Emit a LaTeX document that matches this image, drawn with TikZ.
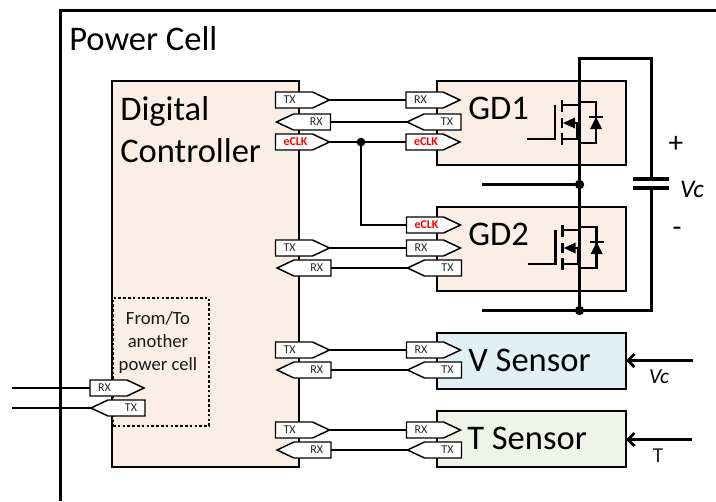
\documentclass[tikz,border=0pt]{standalone}
\usepackage{fontspec}
\setmainfont{Carlito}
\usetikzlibrary{arrows.meta}
\definecolor{ctrlfill}{HTML}{FBEEE6}
\definecolor{vfill}{HTML}{E2EFF5}
\definecolor{tfill}{HTML}{EFF3E8}
\definecolor{portred}{HTML}{FF0000}
\tikzset{
  x=0.75pt,y=-0.75pt,
  frameline/.style={line width=2.25pt},
  blockbox/.style={draw=black,line width=1.4pt},
  wire/.style={line width=1.5pt},
  powerwire/.style={line width=2.25pt},
  portshape/.style={draw=black,fill=white,line width=1.1pt,line join=miter},
  portlabel/.style={inner xsep=6pt,inner ysep=0pt,text width=28.5pt,minimum height=12pt,font=\fontsize{9}{10}\selectfont,text=black!85},
  clklabel/.style={text=portred,font=\fontsize{9}{10}\selectfont\bfseries},
  bigtext/.style={anchor=base west,inner sep=0pt,font=\fontsize{25.9}{30}\selectfont},
  dot/.style={circle,fill=black,inner sep=0pt,minimum size=6.5pt},
  smalltext/.style={anchor=base,inner sep=0pt,font=\fontsize{16}{18}\selectfont},
  fet/.style={line width=1.9pt},
  senseArrow/.style={line width=2.25pt,-{Straight Barb[length=5pt,width=10pt,line width=2pt]}}
}
\newcommand{\portR}[5][]{%
  \draw[portshape] (#3,#4-8) -- (#3+37,#4-8) -- (#3+54,#4) -- (#3+37,#4+8) -- (#3,#4+8) -- cycle;
  \node[portlabel,#1,align=left] (#2) at (#3+27,#4) {#5};}
\newcommand{\portL}[5][]{%
  \draw[portshape] (#3,#4) -- (#3+17,#4-8) -- (#3+54,#4-8) -- (#3+54,#4+8) -- (#3+17,#4+8) -- cycle;
  \node[portlabel,#1,align=right] (#2) at (#3+27,#4) {#5};}
\newcommand{\fetsym}[2]{%
  \begin{scope}[shift={(#1,#2)}]
    \draw[fet] (527,139) -- (555,139) -- (555,105);
    \draw[fet] (562,100) -- (562,112);
    \draw[fet] (562,118) -- (562,128);
    \draw[fet] (562,133) -- (562,145);
    \draw[fet] (562,105) -- (579,105);
    \draw[fet] (562,139) -- (579,139);
    \draw[fet] (570,123) -- (577.5,123) -- (577.5,139);
    \fill (563,123) -- (575,117.5) -- (575,128.5) -- cycle;
    \draw[fet] (579,102) -- (596,102) -- (596,143) -- (579,143);
    \fill (596,117) -- (590,129) -- (602,129) -- cycle;
    \draw[fet] (589,117) -- (603,117);
  \end{scope}}
\begin{document}
\begin{tikzpicture}
\useasboundingbox (0,0) rectangle (716,501);
% outer frame
\coordinate (frameBL) at (60.5,501);
\coordinate (frameTL) at (60.5,10.5);
\coordinate (frameTR) at (716,10.5);
\draw[frameline] (frameBL) -- (frameTL) -- (frameTR);
\node[bigtext] (title) at (69,50) {Power Cell};
% blocks
\node[blockbox,fill=ctrlfill,anchor=north west,inner sep=0pt,minimum width=140.25pt,minimum height=289.5pt] (ctrl) at (111,80) {};
\node[bigtext] (ctrlA) at (120,120) {Digital};
\node[bigtext] (ctrlB) at (120,162) {Controller};
\node[blockbox,fill=ctrlfill,anchor=north west,inner sep=0pt,minimum width=141.75pt,minimum height=63pt] (gd1) at (436,80) {};
\node[blockbox,fill=ctrlfill,anchor=north west,inner sep=0pt,minimum width=141.75pt,minimum height=63pt] (gd2) at (436,206) {};
\node[blockbox,fill=vfill,anchor=north west,inner sep=0pt,minimum width=141.75pt,minimum height=42pt] (vs) at (436,332) {};
\node[blockbox,fill=tfill,anchor=north west,inner sep=0pt,minimum width=141.75pt,minimum height=42pt] (ts) at (436,410) {};
\node[bigtext] (gd1t) at (468,119) {GD1};
\node[bigtext] (gd2t) at (468,245) {GD2};
\node[bigtext] (vst) at (468,371) {V Sensor};
\node[bigtext] (tst) at (467,449) {T Sensor};
% dashed area
\node[draw=black,line width=1.5pt,dash pattern=on 2pt off 1.6pt,anchor=north west,inner sep=0pt,minimum width=72pt,minimum height=96pt] (ext) at (112,297) {};
\node[anchor=base,inner sep=0pt,font=\fontsize{14}{16}\selectfont,text=black!90] (ext1) at (158,324) {From/To};
\node[anchor=base,inner sep=0pt,font=\fontsize{14}{16}\selectfont,text=black!90] (ext2) at (158,347) {another};
\node[anchor=base,inner sep=0pt,font=\fontsize{14}{16}\selectfont,text=black!90] (ext3) at (158,370) {power cell};
% power stage
\coordinate (top1) at (579.5,58.5);
\coordinate (top2) at (651.5,58.5);
\coordinate (capA) at (651.5,179);
\coordinate (capB) at (651.5,188);
\coordinate (botR) at (651.5,310.5);
\coordinate (midL) at (482,184.5);
\coordinate (botL) at (482,310.5);
\node[dot,minimum size=7pt] (midDot) at (579.5,184.5) {};
\node[dot,minimum size=7pt] (botDot) at (579.5,310.5) {};
\draw[powerwire,line join=miter] (midDot.center) -- (top1) -- (top2) -- (capA);
\draw[powerwire,line join=miter] (capB) -- (botR) -- (botL);
\draw[powerwire] (midDot.center) -- (botDot.center);
\draw[powerwire] (midL) -- (midDot.center);
\draw[line width=2.6pt] (633,179) -- (669,179);
\draw[line width=2.6pt] (633,188) -- (669,188);
\fetsym{0}{0}
\fetsym{0.7}{125}
\node[anchor=base,inner sep=0pt,font=\fontsize{19}{20}\selectfont] (vcCap) at (692,197) {\itshape Vc};
\node[anchor=base,inner sep=0pt,font=\fontsize{22}{24}\selectfont] (plus) at (676,152) {+};
\node[anchor=base,inner sep=0pt,font=\fontsize{22}{24}\selectfont] (minus) at (677,236) {-};
% sensor inputs
\coordinate (vIn) at (693,360.5);
\coordinate (tIn) at (692,439.5);
\coordinate (vTip) at (626,360.5);
\coordinate (tTip) at (626,439.5);
\draw[senseArrow] (vIn) -- (vTip);
\draw[senseArrow] (tIn) -- (tTip);
\node[smalltext] (vcIn) at (659,383) {\itshape Vc};
\node[smalltext,text=black!85] (tLab) at (658,462) {T};
% ports
\portR{c1tx}{275.5}{100}{TX}
\portL{c1rx}{276.5}{122}{RX}
\portR[clklabel]{c1ck}{275.5}{142}{eCLK}
\portR{g1rx}{406}{100}{RX}
\portL{g1tx}{407}{122}{TX}
\portR[clklabel]{g1ck}{406}{142}{eCLK}
\portR[clklabel]{g2ck}{406.5}{225}{eCLK}
\portR{c2tx}{275.5}{248}{TX}
\portL{c2rx}{277}{268}{RX}
\portR{g2rx}{406.5}{248}{RX}
\portL{g2tx}{407.5}{268}{TX}
\portR{c3tx}{275.5}{350}{TX}
\portL{c3rx}{277}{370}{RX}
\portR{v1rx}{406.5}{350}{RX}
\portL{v1tx}{407.5}{370}{TX}
\portR{c4tx}{275.5}{430}{TX}
\portL{c4rx}{277}{450}{RX}
\portR{t1rx}{406.5}{430}{RX}
\portL{t1tx}{407.5}{450}{TX}
\portR{xrx}{90}{388}{RX}
\portL{xtx}{91}{408}{TX}
% connectors
\draw[wire] (c1tx.east) -- (g1rx.west);
\draw[wire] (c1rx.east) -- (g1tx.west);
\draw[wire] (c1ck.east) -- (g1ck.west);
\node[dot] (clkDot) at (361,142) {};
\draw[wire] (clkDot.center) |- (g2ck.west);
\draw[wire] (c2tx.east) -- (g2rx.west);
\draw[wire] (c2rx.east) -- (g2tx.west);
\draw[wire] (c3tx.east) -- (v1rx.west);
\draw[wire] (c3rx.east) -- (v1tx.west);
\draw[wire] (c4tx.east) -- (t1rx.west);
\draw[wire] (c4rx.east) -- (t1tx.west);
\coordinate (ext1in) at (12,388);
\coordinate (ext2in) at (12,408);
\draw[wire] (ext1in) -- (xrx.west);
\draw[wire] (ext2in) -- (xtx.west);
\end{tikzpicture}
\end{document}
